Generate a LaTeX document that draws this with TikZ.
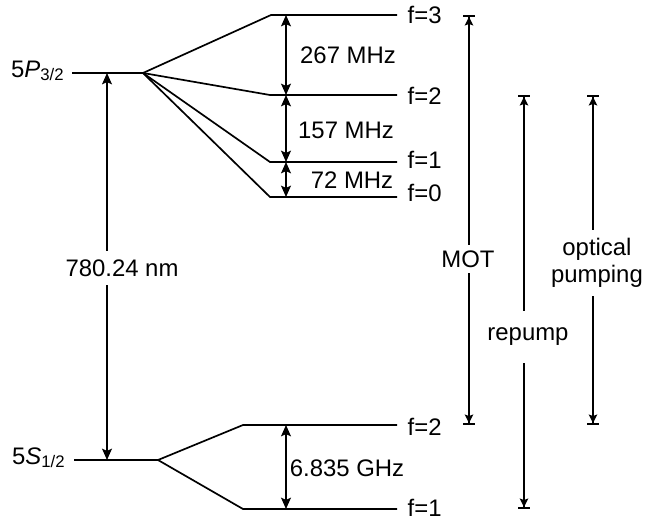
\documentclass[tikz,border=0pt]{standalone}
\usepackage{fontspec}
\setmainfont{Liberation Sans}
\usetikzlibrary{arrows.meta,positioning}
\tikzset{
  lvl/.style={line width=1.2pt},
  hfs/.style={line width=1.2pt, >={Stealth[length=8pt,width=7pt,inset=1.5pt]}, <->},
  laser/.style={line width=1.2pt, {Bar[width=8pt,line width=1.4pt]Stealth[length=6pt,width=6pt,inset=1pt,sep=0pt]}-{Stealth[length=6pt,width=6pt,inset=1pt,sep=0pt]Bar[width=8pt,line width=1.4pt]}},
  lbl/.style={font=\fontsize{17}{19.2}\selectfont, inner sep=1pt},
  tag/.style={lbl, fill=white, inner xsep=2pt, inner ysep=5pt}
}
\begin{document}
\begin{tikzpicture}[x=0.025cm,y=-0.025cm]
\useasboundingbox (0,0) rectangle (646,521);
% 5P3/2 manifold
\coordinate (P) at (72,73);
\coordinate (Pfork) at (143,73);
\coordinate (P3l) at (271,15);  \coordinate (P3r) at (397,15);
\coordinate (P2l) at (270,95);  \coordinate (P2r) at (397,95);
\coordinate (P1l) at (270,162); \coordinate (P1r) at (397,162);
\coordinate (P0l) at (270,197); \coordinate (P0r) at (397,197);
% 5S1/2 manifold
\coordinate (S) at (74,460);
\coordinate (Sfork) at (158,460);
\coordinate (S2l) at (243,425); \coordinate (S2r) at (397,425);
\coordinate (S1l) at (243,509); \coordinate (S1r) at (397,509);
% columns for the arrows
\coordinate (dimx) at (286,0);
\coordinate (optx) at (107,0);
\coordinate (motx) at (469,0);
\coordinate (repx) at (524,0);
\coordinate (pumx) at (593,0);

\node[lbl, anchor=base east] (lP) at (66,77) {5\textit{P}\textsubscript{3/2}};
\node[lbl, anchor=base east] (lS) at (67,464) {5\textit{S}\textsubscript{1/2}};

\draw[lvl] (P) -- (Pfork);
\draw[lvl] (Pfork) -- (P3l) -- (P3r);
\draw[lvl] (Pfork) -- (P2l) -- (P2r);
\draw[lvl] (Pfork) -- (P1l) -- (P1r);
\draw[lvl] (Pfork) -- (P0l) -- (P0r);
\draw[lvl] (S) -- (Sfork);
\draw[lvl] (Sfork) -- (S2l) -- (S2r);
\draw[lvl] (Sfork) -- (S1l) -- (S1r);

\node[lbl, anchor=west] (f3) at (406,15) {f=3};
\node[lbl, anchor=west] (f2) at (406,96) {f=2};
\node[lbl, anchor=west] (f1) at (406,160) {f=1};
\node[lbl, anchor=west] (f0) at (406,193) {f=0};
\node[lbl, anchor=west] (g2) at (406,427) {f=2};
\node[lbl, anchor=west] (g1) at (406,508) {f=1};

% hyperfine splittings
\draw[hfs] (P3l -| dimx) -- (P2l -| dimx);
\draw[hfs] (P2l -| dimx) -- (P1l -| dimx);
\draw[hfs] (P1l -| dimx) -- (P0l -| dimx);
\draw[hfs] (S2l -| dimx) -- (S1l -| dimx);
\node[lbl] (d267) at (348,55) {267 MHz};
\node[lbl] (d157) at (346,130) {157 MHz};
\node[lbl] (d72) at (352,180) {72 MHz};
\node[lbl] (d6835) at (347,468) {6.835 GHz};

% D2 line
\draw[hfs] (P -| optx) -- (S -| optx);
\node[tag, inner ysep=6pt] (wl) at (122,268) {780.24 nm};

% laser frequencies
\draw[laser] (P3r -| motx) -- (S2r -| motx);
\draw[laser] (P2r -| repx) -- (S1r -| repx);
\draw[laser] (P2r -| pumx) -- (S2r -| pumx);
\node[tag, inner ysep=4pt] (mot) at (468,259) {MOT};
\node[tag, inner ysep=12pt] (rep) at (528,337) {repump};
\node[tag, inner ysep=6pt, align=center] (pump) at (597,263) {optical\\pumping};
\end{tikzpicture}
\end{document}
